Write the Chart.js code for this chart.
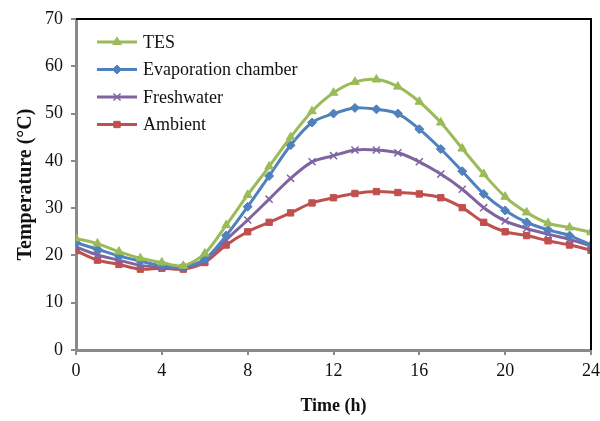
<!DOCTYPE html>
<html>
<head>
<meta charset="utf-8">
<script src="https://cdn.jsdelivr.net/npm/chart.js@4/dist/chart.umd.min.js"></script>
<style>
  html, body { margin: 0; padding: 0; background: #fff; }
  #c { display: block; }
</style>
</head>
<body>
<canvas id="c" width="600" height="421"></canvas>
<script>
const hours = [0,1,2,3,4,5,6,7,8,9,10,11,12,13,14,15,16,17,18,19,20,21,22,23,24];
const tes = [23.6,22.5,20.8,19.4,18.5,17.8,20.4,26.4,32.8,38.8,45.0,50.5,54.4,56.7,57.2,55.7,52.5,48.1,42.6,37.2,32.4,29.1,26.8,25.9,24.9];
const evaporation = [22.7,21.3,19.9,18.8,17.8,17.6,19.2,24.2,30.3,36.8,43.3,48.1,50.0,51.2,50.9,50.0,46.7,42.5,37.8,33.0,29.5,27.0,25.4,24.2,22.2];
const freshwater = [21.8,20.1,19.0,17.9,17.5,17.4,18.8,23.3,27.5,31.9,36.3,39.8,41.1,42.3,42.3,41.7,39.8,37.2,34.0,30.1,27.3,25.7,24.5,23.4,22.0];
const ambient = [21.0,19.0,18.1,17.1,17.3,17.1,18.5,22.2,25.0,27.0,29.0,31.1,32.2,33.1,33.5,33.3,33.0,32.2,30.1,27.0,25.0,24.2,23.1,22.2,21.1];
const xTicks = [0,4,8,12,16,20,24];
const yTicks = [0,10,20,30,40,50,60,70];

const pts = arr => hours.map((h, i) => ({ x: h, y: arr[i] }));

const series = [
  { label: "TES", data: tes, color: "#9BBB59", style: "triangle", r: 5 },
  { label: "Evaporation chamber", data: evaporation, color: "#4F81BD", style: "rectRot", r: 4.5 },
  { label: "Freshwater", data: freshwater, color: "#8064A2", style: "crossRot", r: 5 },
  { label: "Ambient", data: ambient, color: "#C0504D", style: "rect", r: 4.5 }
];

const serif = "'Liberation Serif', 'Times New Roman', serif";
const axisGrey = "#8a8a8a";

// tick marks, black frame on top/right, legend inside the plot
const extras = {
  id: "extras",
  afterDraw(chart) {
    const ctx = chart.ctx;
    const a = chart.chartArea;
    const xs = chart.scales.x, ys = chart.scales.y;
    ctx.save();

    ctx.strokeStyle = axisGrey;
    ctx.lineWidth = 2;
    ctx.beginPath();
    yTicks.forEach(v => {
      const y = Math.round(ys.getPixelForValue(v));
      ctx.moveTo(a.left - 5, y);
      ctx.lineTo(a.left, y);
    });
    xTicks.forEach(v => {
      const x = Math.round(xs.getPixelForValue(v));
      ctx.moveTo(x, a.bottom);
      ctx.lineTo(x, a.bottom + 5);
    });
    ctx.stroke();

    ctx.strokeStyle = "#000";
    ctx.lineWidth = 2;
    ctx.beginPath();
    ctx.moveTo(a.left, a.top);
    ctx.lineTo(a.right, a.top);
    ctx.lineTo(a.right, a.bottom);
    ctx.stroke();

    ctx.font = "18px " + serif;
    ctx.textBaseline = "middle";
    series.forEach((s, i) => {
      const y = 42 + i * 27.5;
      ctx.strokeStyle = s.color;
      ctx.lineWidth = 3;
      ctx.beginPath();
      ctx.moveTo(97, y);
      ctx.lineTo(137, y);
      ctx.stroke();
      ctx.fillStyle = s.color;
      ctx.lineWidth = s.style === "crossRot" ? 1.5 : 1;
      Chart.helpers.drawPoint(ctx, { pointStyle: s.style, radius: s.r, borderWidth: ctx.lineWidth, rotation: 0 }, 117, y);
      ctx.fillStyle = "#111";
      ctx.fillText(s.label, 143, y + 1);
    });
    ctx.restore();
  }
};

new Chart(document.getElementById("c"), {
  type: "line",
  data: {
    datasets: series.map(s => ({
      label: s.label,
      data: pts(s.data),
      borderColor: s.color,
      backgroundColor: s.color,
      borderWidth: 3,
      pointStyle: s.style,
      pointRadius: s.r,
      pointBorderWidth: s.style === "crossRot" ? 1.5 : 1,
      tension: 0.3,
      fill: false
    }))
  },
  options: {
    responsive: false,
    animation: false,
    layout: { padding: { top: 19, right: 9, bottom: 0, left: 0 } },
    plugins: {
      legend: { display: false },
      tooltip: { enabled: false }
    },
    scales: {
      x: {
        type: "linear",
        min: 0,
        max: 24,
        afterBuildTicks: scale => { scale.ticks = xTicks.map(v => ({ value: v })); },
        afterFit: scale => { scale.height = 71; scale.paddingLeft = 0; scale.paddingRight = 0; },
        grid: { drawOnChartArea: false, drawTicks: true, tickLength: 5, color: axisGrey, lineWidth: 2 },
        border: { color: axisGrey, width: 3 },
        ticks: { color: "#111", font: { family: serif, size: 18 }, padding: 5, maxRotation: 0 },
        title: { display: true, text: "Time (h)", color: "#111", font: { family: serif, size: 18, weight: "bold" }, padding: { top: 9 } }
      },
      y: {
        min: 0,
        max: 70,
        afterBuildTicks: scale => { scale.ticks = yTicks.map(v => ({ value: v })); },
        afterFit: scale => { scale.width = 76; scale.paddingTop = 0; scale.paddingBottom = 0; },
        grid: { drawOnChartArea: false, drawTicks: true, tickLength: 5, color: axisGrey, lineWidth: 2 },
        border: { color: axisGrey, width: 3 },
        ticks: { color: "#111", font: { family: serif, size: 18 }, padding: 8 },
        title: { display: true, text: "Temperature (°C)", color: "#111", font: { family: serif, size: 20, weight: "bold" }, padding: { top: 14, bottom: 0 } }
      }
    }
  },
  plugins: [extras]
});
</script>
</body>
</html>
